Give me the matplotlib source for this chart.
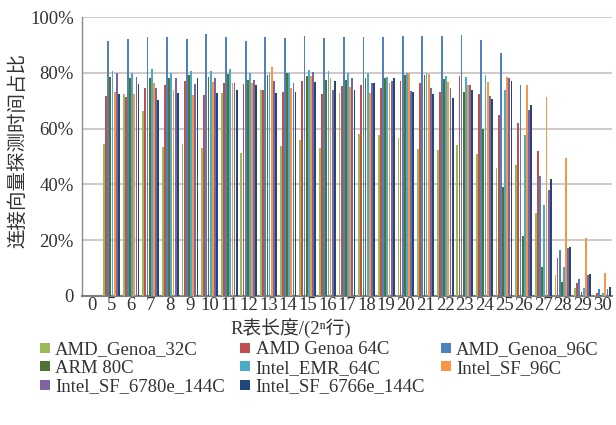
import numpy as np
import matplotlib
matplotlib.use("Agg")
import matplotlib.pyplot as plt
from matplotlib.lines import Line2D

plt.rcParams['font.family'] = ['Liberation Serif', 'Noto Sans CJK SC', 'DejaVu Sans']

categories = ['0', '5', '6', '7', '8', '9', '10', '11', '12', '13', '14', '15', '16', '17',
              '18', '19', '20', '21', '22', '23', '24', '25', '26', '27', '28', '29', '30']

series_names = ['AMD_Genoa_32C', 'AMD Genoa 64C', 'AMD_Genoa_96C', 'ARM 80C',
                'Intel_EMR_64C', 'Intel_SF_96C', 'Intel_SF_6780e_144C', 'Intel_SF_6766e_144C']

amd_genoa_32c = [0, 54.4, 72.3, 66.2, 53.4, 54.6, 53.2, 72.6, 51.4, 73.8, 53.7, 56.0, 53.2, 72.8,
                 58.0, 57.6, 56.6, 52.8, 52.2, 54.0, 51.0, 46.0, 47.0, 29.7, 7.5, 2.8, 0.5]
amd_genoa_64c = [0, 71.6, 71.4, 74.4, 75.8, 77.0, 72.0, 76.2, 76.0, 73.8, 73.2, 77.1, 72.3, 75.2,
                 75.8, 74.7, 77.1, 76.2, 73.2, 78.8, 72.3, 65.0, 62.0, 52.0, 13.6, 4.6, 1.0]
amd_genoa_96c = [0, 91.5, 92.0, 93.0, 93.0, 92.0, 93.8, 92.7, 91.5, 93.0, 92.3, 93.2, 92.3, 92.7,
                 93.0, 92.7, 93.2, 93.3, 93.2, 93.5, 91.7, 87.0, 75.6, 43.0, 16.6, 6.0, 2.5]
arm_80c = [0, 78.6, 78.3, 78.3, 78.2, 79.2, 78.6, 79.5, 77.4, 79.2, 79.8, 78.8, 77.4, 77.4,
           78.3, 78.0, 79.2, 79.2, 77.7, 73.2, 60.0, 39.0, 21.6, 10.5, 5.0, 1.5, 0.3]
intel_emr_64c = [0, 80.6, 80.0, 81.5, 80.0, 80.6, 80.6, 81.5, 79.8, 80.0, 79.8, 81.0, 80.6, 79.8,
                 79.8, 78.6, 79.8, 79.8, 78.8, 78.6, 79.2, 74.0, 57.7, 32.6, 10.5, 3.0, 1.0]
intel_sf_96c = [0, 73.2, 72.3, 76.2, 73.8, 72.0, 76.8, 76.2, 76.2, 81.9, 74.4, 78.8, 78.0, 75.0,
                72.8, 76.2, 80.1, 79.5, 76.8, 75.6, 76.6, 78.4, 75.6, 71.4, 49.4, 20.8, 8.2]
intel_sf_6780e = [0, 79.8, 78.6, 74.4, 78.0, 76.0, 78.0, 76.4, 77.4, 77.0, 76.2, 80.4, 73.8, 78.2,
                  76.4, 77.0, 73.4, 74.4, 74.4, 75.6, 71.7, 78.0, 66.7, 38.0, 17.3, 7.5, 2.5]
intel_sf_6766e = [0, 72.3, 76.0, 70.4, 72.8, 78.2, 72.6, 73.8, 75.8, 72.8, 73.2, 76.8, 77.0, 73.8,
                  76.2, 78.0, 73.2, 72.3, 71.1, 73.8, 70.6, 77.0, 68.5, 42.0, 17.6, 7.8, 3.2]

values = [amd_genoa_32c, amd_genoa_64c, amd_genoa_96c, arm_80c,
          intel_emr_64c, intel_sf_96c, intel_sf_6780e, intel_sf_6766e]
colors = ['#9BBB59', '#C0504D', '#4F81BD', '#4E7335',
          '#4BACC6', '#F79646', '#8064A2', '#1F497D']

fig = plt.figure(figsize=(6.16, 4.25), dpi=100)
ax = fig.add_axes([82/616, 1-296/425, (612-82)/616, (296-17)/425])

x = np.arange(len(categories))
n = len(values)
step = 0.87 / n
bw = step * 0.85
for i, (vals, c) in enumerate(zip(values, colors)):
    off = (i - (n - 1) / 2) * step
    ax.bar(x + off, vals, width=bw, color=c, linewidth=0, zorder=3)

ax.set_xlim(-0.5, len(categories) - 0.5)
ax.set_ylim(0, 100)
ax.set_yticks([0, 20, 40, 60, 80, 100])
ax.set_yticklabels(['0', '20%', '40%', '60%', '80%', '100%'])
ax.set_xticks(x)
ax.set_xticklabels(categories)
ax.tick_params(axis='both', length=0, labelsize=13.5, colors='#333333')
ax.tick_params(axis='y', pad=6)
ax.tick_params(axis='x', pad=1)
ax.yaxis.grid(True, color='#C9BFBF', linewidth=1.2, zorder=0)
ax.set_axisbelow(True)
for s in ['top', 'right']:
    ax.spines[s].set_visible(False)
ax.spines['left'].set_color('#8C8C8C')
ax.spines['left'].set_linewidth(1.0)
ax.spines['bottom'].set_color('#7F7F7F')
ax.spines['bottom'].set_linewidth(1.5)

fig.text(18/616, 1-150/425, '连接向量探测时间占比', rotation=90, ha='center', va='center',
         fontsize=14, color='#333333')
fig.text(291/616, 1-329/425, 'R表长度/(2ⁿ行)', ha='center', va='center',
         fontsize=13.5, color='#333333')

handles = [Line2D([], [], marker='s', linestyle='none', markersize=7, color=c,
                  markeredgewidth=0) for c in colors]
order = [0, 3, 6, 1, 4, 7, 2, 5]
fig.legend([handles[k] for k in order], [series_names[k] for k in order],
           ncol=3, loc='upper left', bbox_to_anchor=(38/616, 1-341/425),
           frameon=False, fontsize=13.5, handlelength=0.7, handletextpad=0.2,
           columnspacing=0.75, labelspacing=0.08, borderpad=0, borderaxespad=0,
           labelcolor='#333333')

fig.savefig('out.png', dpi=100)
